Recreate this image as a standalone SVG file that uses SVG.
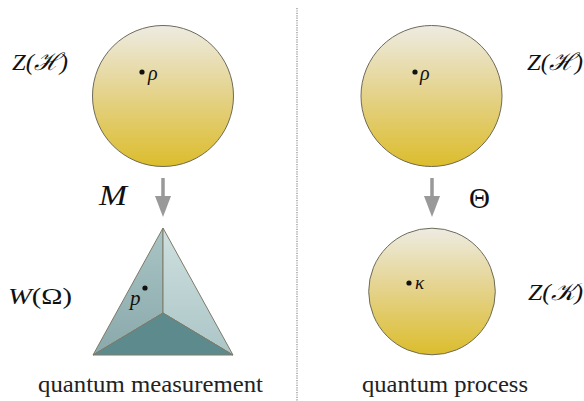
<svg xmlns="http://www.w3.org/2000/svg" width="584" height="401" viewBox="0 0 584 401">
<defs>
<linearGradient id="gold" x1="0" y1="0" x2="0" y2="1">
<stop offset="0" stop-color="#edebe2"/>
<stop offset="0.5" stop-color="#e4d288"/>
<stop offset="1" stop-color="#dcbd2c"/>
</linearGradient>
<linearGradient id="lface" x1="0" y1="0" x2="0" y2="1">
<stop offset="0" stop-color="#a9c4c5"/>
<stop offset="1" stop-color="#8aa9ab"/>
</linearGradient>
<linearGradient id="rface" x1="0" y1="0" x2="0" y2="1">
<stop offset="0" stop-color="#cfe0e0"/>
<stop offset="1" stop-color="#abc5c6"/>
</linearGradient>
<style>
.ball{fill:url(#gold);stroke:#6e6a58;stroke-width:1}
.math{font-family:"Liberation Serif",serif;font-style:italic;fill:#111}
.up{font-family:"Liberation Serif",serif;fill:#111}
.cap{font-family:"Liberation Serif",serif;font-size:23px;fill:#222}
.arrow{stroke:#999999;stroke-width:3.5;fill:none}
.edge{stroke:#7d7a68;stroke-width:1;stroke-linejoin:round}
</style>
</defs>
<rect width="584" height="401" fill="#ffffff"/>
<line x1="297" y1="8" x2="297" y2="401" stroke="#8a8a8a" stroke-width="1.2" stroke-dasharray="1.2 1.2"/>

<g id="connectors">
<line class="arrow" x1="163" y1="178" x2="163" y2="200"/>
<path d="M155,196 L171,196 L163,217 Z" fill="#999999"/>
<line class="arrow" x1="432" y1="178" x2="432" y2="200"/>
<path d="M424,196 L440,196 L432,217 Z" fill="#999999"/>
<text class="math" x="99" y="205" font-size="29" textLength="28" lengthAdjust="spacingAndGlyphs">M</text>
<text class="up" x="469" y="208" font-size="29">Θ</text>
</g>

<g id="state-space-left">
<circle class="ball" cx="163" cy="96" r="70.5"/>
<circle cx="142" cy="72" r="2.6" fill="#111"/>
<text class="math" x="148" y="80" font-size="20">ρ</text>
<text class="math" x="12" y="70" font-size="24" textLength="56" lengthAdjust="spacingAndGlyphs">Z(<tspan font-family="'DejaVu Serif',serif">ℋ</tspan>)</text>
</g>

<g id="simplex">
<polygon points="163,228 93,355 163,313" fill="url(#lface)" class="edge"/>
<polygon points="163,228 163,313 233,355" fill="url(#rface)" class="edge"/>
<polygon points="93,355 163,313 233,355" fill="#5d8a8d" class="edge"/>
<circle cx="145" cy="288" r="2.6" fill="#111"/>
<text class="math" x="130" y="305" font-size="21">p</text>
<text class="math" x="8" y="304" font-size="24" textLength="64" lengthAdjust="spacingAndGlyphs">W<tspan font-style="normal">(Ω)</tspan></text>
</g>

<g id="state-space-right">
<circle class="ball" cx="431.5" cy="96" r="70.5"/>
<circle cx="415" cy="72" r="2.6" fill="#111"/>
<text class="math" x="420" y="80" font-size="20">ρ</text>
<text class="math" x="527" y="70" font-size="24" textLength="56" lengthAdjust="spacingAndGlyphs">Z(<tspan font-family="'DejaVu Serif',serif">ℋ</tspan>)</text>
</g>

<g id="state-space-output">
<circle class="ball" cx="432" cy="291.5" r="63.3"/>
<circle cx="409" cy="283" r="2.6" fill="#111"/>
<text class="math" x="415" y="289" font-size="19">κ</text>
<text class="math" x="528" y="300" font-size="24" textLength="55" lengthAdjust="spacingAndGlyphs">Z(<tspan font-family="'DejaVu Serif',serif">𝒦</tspan>)</text>
</g>

<g id="captions">
<text class="cap" x="38" y="392" textLength="225" lengthAdjust="spacingAndGlyphs">quantum measurement</text>
<text class="cap" x="362" y="392" textLength="166" lengthAdjust="spacingAndGlyphs">quantum process</text>
</g>
</svg>
